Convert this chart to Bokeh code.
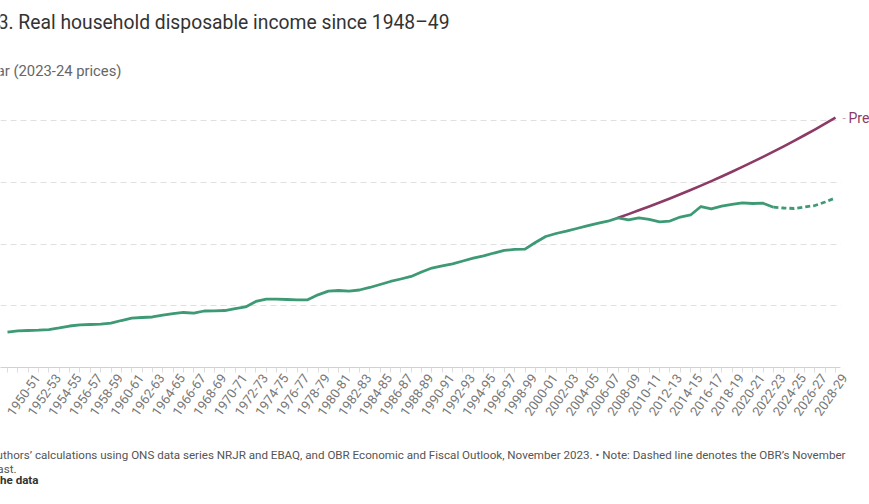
from bokeh.plotting import figure
from bokeh.models import (Range1d, FixedTicker, Grid, Label, ColumnDataSource, Title,
                          BoxAnnotation, LinearAxis)
from bokeh.embed import file_html
from bokeh.resources import INLINE

# ---------------- data ----------------
years = [f"{y}-{(y + 1) % 100:02d}" for y in range(1948, 2029)]

# Real household disposable income, £ per year (2023-24 prices), 1948-49 .. 2022-23
actual = [
    5720, 5940, 5990, 6040, 6150, 6400, 6720, 6910, 6960, 7040,
    7170, 7610, 7980, 8100, 8180, 8500, 8740, 8910, 8790, 9150,
    9180, 9230, 9550, 9800, 10690, 11060, 11060, 11010, 10960, 10960,
    11770, 12360, 12470, 12360, 12550, 12960, 13440, 13930, 14330, 14740,
    15470, 16110, 16440, 16790, 17250, 17700, 18090, 18540, 18950, 19140,
    19160, 20240, 21210, 21700, 22070, 22510, 22950, 23350, 23690, 24240,
    23920, 24240, 23970, 23590, 23720, 24370, 24700, 26070, 25700, 26120,
    26400, 26670, 26560, 26610, 25960,
]
# OBR November 2023 forecast, 2022-23 .. 2028-29
forecast = [25960, 25830, 25750, 25990, 26230, 26800, 27480]
# Pre-financial-crisis trend, 2007-08 .. 2028-29
trend = [
    24240, 24840, 25450, 26080, 26720, 27380, 28060, 28750, 29460, 30190,
    30940, 31700, 32490, 33290, 34110, 34950, 35820, 36700, 37610, 38540,
    39490, 40470,
]
y_ticks = [10000, 20000, 30000, 40000]

title = "Figure 3. Real household disposable income since 1948\u201349"
subtitle = "\u00a3 per year (2023-24 prices)"
trend_label = "Pre-financial crisis trend"
source_line1 = ("Source: Authors\u2019 calculations using ONS data series NRJR and EBAQ, and OBR "
                "Economic and Fiscal Outlook, November 2023. \u2022 Note: Dashed line denotes the OBR\u2019s November")
source_line2 = "2023 forecast."
source_line3 = "Get the data"

# ---------------- layout ----------------
W, H = 869, 504
FRAME_BOTTOM = 367
PX_PER = 10.35
X0PX = 7
PLOT_RIGHT_PX = 840
LABEL_SHIFT_PX = 9
LABEL_ANGLE = 0.96
xstart = -X0PX / PX_PER
xend = xstart + W / PX_PER
PX_PER_Y = 61.75 / 10000
YMAX = FRAME_BOTTOM / PX_PER_Y


def sx(px):
    return xstart + px / PX_PER


def sy(py):
    return (FRAME_BOTTOM - py) / PX_PER_Y


GREEN = "#3d9a75"
PURPLE = "#8c3a66"
FONT = "Roboto"

p = figure(width=W, height=H, output_backend="svg", toolbar_location=None,
           x_range=Range1d(xstart, xend), y_range=Range1d(0, YMAX),
           x_axis_location=None, y_axis_location=None,
           min_border_left=0, min_border_right=0,
           min_border_top=0, min_border_bottom=H - FRAME_BOTTOM)
p.outline_line_color = None
p.background_fill_color = "white"
p.border_fill_color = "white"
for g in list(p.grid):
    g.visible = False

grid = Grid(dimension=1, ticker=FixedTicker(ticks=y_ticks),
            grid_line_color="#e0e0e0", grid_line_dash="6 4", grid_line_width=1)
p.add_layout(grid)

idx = list(range(len(years)))
labelled = idx[2::2]   # the 1948-49 label is cut off by the picture's left edge

# baseline axis: line and a small tick for every year
ax = LinearAxis(ticker=FixedTicker(ticks=[], minor_ticks=idx),
                bounds=(xstart, sx(PLOT_RIGHT_PX)),
                axis_line_color="#d0d0d0", minor_tick_line_color="#dddddd",
                major_tick_line_color="#dddddd", major_tick_in=0, major_tick_out=5,
                minor_tick_in=0, minor_tick_out=5, major_label_standoff=0)
p.add_layout(ax, "below")

# label axis (labels sit slightly right of their ticks, as in the original)
shift = LABEL_SHIFT_PX / PX_PER
p.extra_x_ranges = {"labels": Range1d(xstart - shift, xend - shift)}
lax = LinearAxis(x_range_name="labels", ticker=FixedTicker(ticks=labelled),
                 major_label_overrides={i: years[i] for i in labelled},
                 major_label_orientation=LABEL_ANGLE,
                 axis_line_color=None, major_tick_line_color=None, minor_tick_line_color=None,
                 major_tick_out=0, major_tick_in=0, minor_tick_out=0, minor_tick_in=0,
                 major_label_standoff=3, major_label_text_font=FONT,
                 major_label_text_font_size="13px", major_label_text_color="#777777")
p.add_layout(lax, "below")

# lines
src_a = ColumnDataSource(dict(x=idx[:len(actual)], y=actual))
src_f = ColumnDataSource(dict(x=idx[len(actual) - 1:len(actual) - 1 + len(forecast)], y=forecast))
t0 = len(years) - len(trend)
src_t = ColumnDataSource(dict(x=idx[t0:], y=trend))

p.line("x", "y", source=src_t, line_color=PURPLE, line_width=2.6, line_join="round")
p.line("x", "y", source=src_a, line_color=GREEN, line_width=2.8, line_join="round")
p.line("x", "y", source=src_f, line_color=GREEN, line_width=2.8, line_dash="5 3")

# white margin to the right of the plotting area (hides grid lines there)
p.add_layout(BoxAnnotation(left=sx(PLOT_RIGHT_PX), right=xend, bottom=1, top=YMAX,
                           fill_color="white", fill_alpha=1, line_color=None))


def lab(text, px, py, size, color, align="left", style="normal"):
    p.add_layout(Label(x=sx(px), y=sy(py), text=text, text_font=FONT,
                       text_font_size=size, text_color=color, text_align=align,
                       text_baseline="middle", text_font_style=style))


lab(title, 449, 22, "19.3px", "#333333", align="right")
lab(subtitle, 121, 70, "14.8px", "#666666", align="right")
lab("-", 842, 117, "12px", "#c9a4b8")
lab(trend_label, 848, 117, "14px", PURPLE)


def foot(text, right_px, standoff, color="#555555", style="normal", size="11.6px"):
    t = Title(text=text, align="right", offset=W - right_px, standoff=standoff,
              text_font=FONT, text_font_size=size, text_color=color,
              text_font_style=style)
    p.add_layout(t, "below")


foot(" ", W, 6.5, size="12.5px")  # spacer between axis labels and the notes
foot(source_line1, 845, -2.2)
foot(source_line2, 16, -2.2)
foot(source_line3, 38, -7.2, color="#333333", style="bold")

open("out.html", "w").write(file_html(p, INLINE))
